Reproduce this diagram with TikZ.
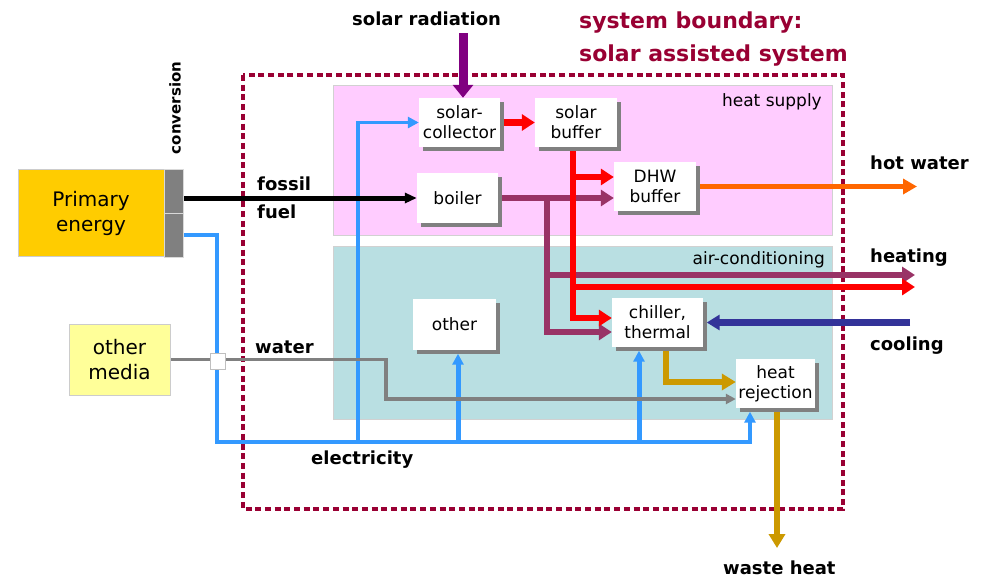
\documentclass[tikz,border=0pt]{standalone}
\usepackage{fontspec}
\setmainfont{DejaVu Sans}
\usetikzlibrary{arrows.meta,shadows}
\definecolor{bnd}{HTML}{990033}
\definecolor{pinkbg}{HTML}{FFCCFF}
\definecolor{tealbg}{HTML}{B9DFE2}
\definecolor{pyel}{HTML}{FFCC00}
\definecolor{omyel}{HTML}{FFFF99}
\definecolor{convg}{HTML}{808080}
\definecolor{elecc}{HTML}{3399FF}
\definecolor{redc}{HTML}{FF0000}
\definecolor{marc}{HTML}{993366}
\definecolor{orc}{HTML}{FF6600}
\definecolor{coolc}{HTML}{333399}
\definecolor{goldc}{HTML}{CC9900}
\definecolor{purc}{HTML}{800080}
\definecolor{waterc}{HTML}{808080}
\pgfdeclarelayer{bg}
\pgfdeclarelayer{lines}
\pgfsetlayers{bg,lines,main}
\newcommand\dnfont{\fontsize{17pt}{20pt}\selectfont}
\newcommand\dlfont{\bfseries\fontsize{18pt}{21pt}\selectfont}
\newcommand\dpfont{\fontsize{20pt}{25pt}\selectfont}
\newcommand\dtfont{\bfseries\fontsize{22pt}{26pt}\selectfont}
\begin{document}
\begin{tikzpicture}[x=1pt,y=-1pt,
  blk/.style={fill=white, inner sep=0pt, align=center, font=\dnfont, minimum height=49pt,
    drop shadow={shadow xshift=3.5pt, shadow yshift=-3.5pt, fill=black!50, opacity=1}},
  lab/.style={font=\dlfont, inner sep=0pt, anchor=base west},
  regl/.style={font=\dnfont, inner sep=0pt, anchor=base east},
  titl/.style={font=\dtfont, text=bnd, inner sep=0pt, anchor=base west},
  region/.style={draw=black!18, line width=0.8pt},
  redf/.style={draw=redc, line width=6.5pt, -{Triangle[length=13pt,width=16pt]}},
  marf/.style={draw=marc, line width=6.5pt, -{Triangle[length=13pt,width=16pt]}},
  orf/.style={draw=orc, line width=5.5pt, -{Triangle[length=14pt,width=15pt]}},
  coolf/.style={draw=coolc, line width=6.5pt, -{Triangle[length=13pt,width=15pt]}},
  goldf/.style={draw=goldc, line width=6pt, -{Triangle[length=14pt,width=16pt]}},
  purf/.style={draw=purc, line width=9pt, -{Triangle[length=13pt,width=20pt]}},
  fosf/.style={draw=black, line width=5pt, -{Triangle[length=12pt,width=10pt]}},
  elecf/.style={draw=elecc, line width=#1, -{Triangle[length=11pt,width=11pt]}},
  waterf/.style={draw=waterc, line width=3.5pt, -{Triangle[length=10pt,width=10pt]}},
]
\useasboundingbox (0,0) rectangle (986,579);

% ---------- regions and boundary
\begin{pgfonlayer}{bg}
  \fill[white] (0,0) rectangle (986,579);
  \draw[region, fill=pinkbg] (333,85) rectangle (832,235);
  \draw[region, fill=tealbg] (333,246) rectangle (832,419);
  \draw[bnd, line width=4.5pt, dash pattern=on 6pt off 3.7pt] (243,75) rectangle (843,509);
\end{pgfonlayer}

% ---------- nodes
\node[fill=pyel, draw=black!20, minimum width=146pt, minimum height=87pt, inner sep=0pt,
      align=center, font=\dpfont] (pe) at (91,213) {Primary\\energy};
\node[fill=convg, draw=black!15, minimum width=19pt, minimum height=44pt, inner sep=0pt] (conv1) at (173.5,191) {};
\node[fill=convg, draw=black!15, minimum width=19pt, minimum height=44pt, inner sep=0pt] (conv2) at (173.5,235) {};
\node[font=\bfseries\fontsize{15pt}{18pt}\selectfont, rotate=90, inner sep=0pt] (convl) at (175,108) {conversion};
\node[fill=omyel, draw=black!20, minimum width=101pt, minimum height=71pt, inner sep=0pt,
      align=center, font=\dpfont] (om) at (119.5,359.5) {other\\media};

\node[blk, minimum width=81pt] (sc) at (459.5,122.5) {solar-\\collector};
\node[blk, minimum width=82pt] (sb) at (576,122.5) {solar\\buffer};
\node[blk, minimum width=81pt, minimum height=50pt] (boil) at (457.5,198) {boiler};
\node[blk, minimum width=82pt] (dhw) at (655,186.5) {DHW\\buffer};
\node[blk, minimum width=83pt, minimum height=51pt] (oth) at (454.5,324.5) {other};
\node[blk, minimum width=91pt] (chil) at (657.5,322.5) {chiller,\\thermal};
\node[blk, minimum width=79pt] (hr) at (775.5,383.5) {heat\\rejection};

\coordinate (othb) at ([yshift=-3.5pt]oth.south);
\coordinate (chilb) at ([yshift=-3.5pt]chil.south);
\coordinate (chile) at ([xshift=3.5pt]chil.east);
\coordinate (hrb) at ([yshift=-3.5pt]hr.south);

% ---------- labels
\node[titl] (t1) at (579,28.3) {system boundary:};
\node[titl] (t2) at (579,61.5) {solar assisted system};
\node[regl] (lhs) at (822,106) {heat supply};
\node[regl] (lac) at (825,264) {air-conditioning};
\node[lab] (lsr) at (352,25) {solar radiation};
\node[lab] (lfo) at (257,190) {fossil};
\node[lab] (lfu) at (257,218) {fuel};
\node[lab] (lwa) at (255,353) {water};
\node[lab] (lel) at (311,464) {electricity};
\node[lab] (lhw) at (870,169) {hot water};
\node[lab] (lhe) at (870,262) {heating};
\node[lab] (lco) at (870,350) {cooling};
\node[lab] (lwh) at (723,574) {waste heat};

\coordinate (radtop) at (463,33);
\coordinate (hwend) at (917,186.5);
\coordinate (heatM) at (915,275);
\coordinate (heatR) at (915,287);
\coordinate (coolst) at (910,322.5);
\coordinate (whend) at (777,548);

% ---------- connectors
\begin{pgfonlayer}{lines}
  % electricity
  \draw[elecf=4pt] (conv2.east) -| (217,442) -- (750,442) -- (hrb -| 750,0);
  \draw[elecf=3.5pt] (358,442) -- (358,122.5) -- (sc.west);
  \draw[elecf=5pt] (458,442) -- (othb -| 458,0);
  \draw[elecf=5pt] (639,442) -- (chilb -| 639,0);
  % water
  \draw[waterf] (om.east) -| (386,399) -- (hr.west |- 0,399);
  % fossil fuel
  \draw[fosf] (conv1.east |- boil.west) -- (boil.west);
  % solar radiation
  \draw[purf] (radtop) -- (sc.north -| radtop);
  % boiler heat
  \draw[marf] (boil.east) -- (dhw.west |- boil.east);
  \draw[marf] (547,198) |- (chil.west |- 0,332);
  \draw[marf] (547,275) -- (heatM);
  % solar heat
  \draw[redf] (sc.east) -- (sb.west);
  \draw[redf] (sb.south -| 573,0) |- (chil.west |- 0,318);
  \draw[redf] (573,177) -- (dhw.west |- 0,177);
  \draw[redf] (573,287) -- (heatR);
  % hot water
  \draw[orf] (dhw.east) -- (hwend);
  % cooling
  \draw[coolf] (coolst) -- (chile);
  % heat rejection
  \draw[goldf] (chilb -| 666,0) |- (hr.west |- 0,382);
  \draw[goldf] (hrb -| 777,0) -- (whend);
\end{pgfonlayer}
\node[draw=black!25, fill=white, minimum width=15pt, minimum height=16pt, inner sep=0pt] (xing) at (217.5,361) {};
\end{tikzpicture}
\end{document}
